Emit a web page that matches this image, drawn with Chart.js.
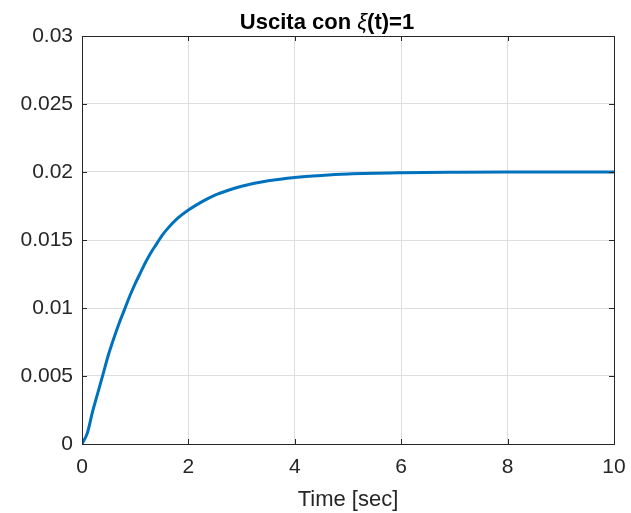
<!DOCTYPE html>
<html>
<head>
<meta charset="utf-8">
<script src="https://cdn.jsdelivr.net/npm/chart.js@4.4.0/dist/chart.umd.min.js"></script>
<style>
  html, body { margin: 0; padding: 0; background: #fff; }
  #wrap { width: 631px; height: 513px; }
</style>
</head>
<body>
<div id="wrap"><canvas id="stepGraph" width="631" height="513"></canvas></div>
<script>
// valori
const timeSec = [0, 0.1, 0.2, 0.3, 0.4, 0.5, 0.6, 0.7, 0.8, 0.9, 1.0, 1.1, 1.2, 1.3, 1.4, 1.5, 1.6, 1.8, 2.0, 2.25, 2.5, 2.75, 3.0, 3.5, 4.0, 4.5, 5.0, 6.0, 7.0, 8.0, 9.0, 10.0];
const output = [0, 0.0008, 0.0024, 0.0038, 0.0052, 0.0066, 0.0078, 0.0089, 0.0099, 0.0109, 0.0118, 0.0126, 0.0134, 0.0141, 0.0147, 0.0153, 0.0158, 0.0166, 0.0172, 0.0178, 0.0183, 0.01866, 0.01895, 0.01935, 0.0196, 0.01975, 0.01985, 0.01994, 0.01998, 0.0200, 0.0200, 0.0200];
const xTicks = [0, 2, 4, 6, 8, 10];
const yTicks = [0, 0.005, 0.01, 0.015, 0.02, 0.025, 0.03];
const titleParts = [["Uscita con ", "bold"], ["ξ", "italic"], ["(t)=1", "bold"]];
const xLabel = "Time [sec]";

const axisColor = "#262626";
const font = "'Liberation Sans', Arial, sans-serif";

const points = timeSec.map(function (t, i) {
    return { x: t, y: output[i] };
});

// riquadro, tacche interne e titolo
const matlabBox = {
    id: "matlabBox",
    afterDraw(chart) {
        const ctx = chart.ctx;
        const a = chart.chartArea;
        const xs = chart.scales.x;
        const ys = chart.scales.y;
        ctx.save();
        ctx.strokeStyle = axisColor;
        ctx.lineWidth = 1;
        ctx.beginPath();
        xTicks.forEach(function (v) {
            const px = Math.round(xs.getPixelForValue(v)) + 0.5;
            ctx.moveTo(px, a.bottom); ctx.lineTo(px, a.bottom - 5);
            ctx.moveTo(px, a.top); ctx.lineTo(px, a.top + 5);
        });
        yTicks.forEach(function (v) {
            const py = Math.round(ys.getPixelForValue(v)) + 0.5;
            ctx.moveTo(a.left, py); ctx.lineTo(a.left + 5, py);
            ctx.moveTo(a.right, py); ctx.lineTo(a.right - 5, py);
        });
        ctx.stroke();
        ctx.strokeRect(Math.round(a.left) + 0.5, Math.round(a.top) + 0.5,
            Math.round(a.right - a.left), Math.round(a.bottom - a.top));

        // titolo con xi in corsivo
        ctx.fillStyle = "#000";
        ctx.textBaseline = "alphabetic";
        let total = 0;
        titleParts.forEach(function (p) {
            ctx.font = (p[1] === "bold" ? "bold " : "italic ") + "22px " + font;
            total += ctx.measureText(p[0]).width;
        });
        let x = 327 - total / 2;
        titleParts.forEach(function (p) {
            ctx.font = (p[1] === "bold" ? "bold " : "italic ") + "22px " + font;
            ctx.fillText(p[0], x, 29);
            x += ctx.measureText(p[0]).width;
        });
        ctx.restore();
    }
};

const config = {
    type: "scatter",
    data: {
        datasets: [{
            data: points,
            showLine: true,
            borderColor: "#0072BD",
            borderWidth: 3,
            pointRadius: 0,
            cubicInterpolationMode: "monotone",
            fill: false
        }]
    },
    options: {
        responsive: false,
        animation: false,
        layout: { padding: { top: 36, right: 17, left: 0, bottom: 0 } },
        plugins: {
            legend: { display: false },
            tooltip: { enabled: false },
            title: { display: false }
        },
        scales: {
            x: {
                type: "linear",
                min: 0,
                max: 10,
                afterBuildTicks(scale) {
                    scale.ticks = xTicks.map(function (v) { return { value: v }; });
                },
                afterFit(scale) {
                    scale.height = 69;
                    scale.paddingLeft = 0;
                    scale.paddingRight = 0;
                },
                grid: { color: "#dedede", drawTicks: false },
                border: { display: false },
                ticks: {
                    color: axisColor,
                    padding: 11,
                    maxRotation: 0,
                    font: { family: font, size: 21 }
                },
                title: {
                    display: true,
                    text: xLabel,
                    color: axisColor,
                    padding: { top: 2, bottom: 0 },
                    font: { family: font, size: 22 }
                }
            },
            y: {
                type: "linear",
                min: 0,
                max: 0.03,
                afterBuildTicks(scale) {
                    scale.ticks = yTicks.map(function (v) { return { value: v }; });
                },
                afterFit(scale) {
                    scale.width = 82;
                    scale.paddingTop = 0;
                    scale.paddingBottom = 0;
                },
                grid: { color: "#dedede", drawTicks: false },
                border: { display: false },
                ticks: {
                    color: axisColor,
                    padding: 9,
                    font: { family: font, size: 21 },
                    callback: function (v) { return String(+v.toFixed(3)); }
                }
            }
        }
    },
    plugins: [matlabBox]
};

const myChart = new Chart(document.getElementById("stepGraph"), config);
</script>
</body>
</html>
